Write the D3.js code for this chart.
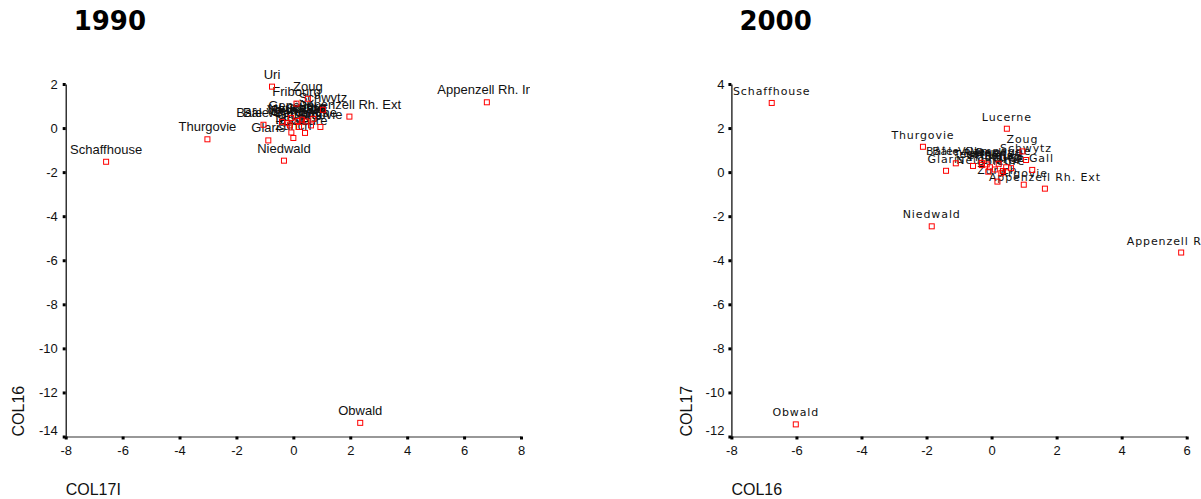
<!DOCTYPE html>
<html>
<head>
<meta charset="utf-8">
<script src="https://cdn.jsdelivr.net/npm/d3@7"></script>
<style>
  body { margin: 0; background: #fff; }
  svg { display: block; }
</style>
</head>
<body>
<svg id="chart" width="1201" height="499"></svg>
<script>
// Swiss cantons, same order in every series
const cantons = [
  "Zurich", "Berne", "Lucerne", "Uri", "Schwytz", "Obwald", "Niedwald",
  "Glaris", "Zoug", "Fribourg", "Soleure", "Bâle-Ville", "Bâle-Campagne",
  "Schaffhouse", "Appenzell Rh. Ext", "Appenzell Rh. Int", "St-Gall",
  "Grisons", "Argovie", "Thurgovie", "Tessin", "Vaud", "Valais",
  "Neuchâtel", "Genève", "Jura"
];

// 1990 scores
const col17i1990 = [
  0.00, -0.20, 0.30, -0.75, 1.04, 2.35, -0.33,
  -0.88, 0.51, 0.11, 0.41, -1.05, -0.12,
  -6.58, 1.97, 6.80, 0.45,
  0.20, 0.95, -3.02, -0.07, -0.40, 0.62,
  0.15, -0.08, 0.70
];
const col16_1990 = [
  -0.45, 0.22, 0.38, 1.88, 0.83, -13.38, -1.48,
  -0.56, 1.33, 1.11, -0.22, 0.15, 0.12,
  -1.53, 0.52, 1.17, 0.30,
  0.05, 0.05, -0.51, -0.20, 0.28, 0.12,
  0.32, 0.46, 0.42
];

// 2000 scores
const col16_2000 = [
  0.18, -0.30, 0.47, 0.35, 1.06, -6.02, -1.84,
  -1.40, 0.95, 0.10, 0.30, -1.10, -0.30,
  -6.76, 1.64, 5.83, 1.25,
  -0.05, 0.99, -2.11, -0.57, -0.15, 0.45,
  -0.10, 0.22, 0.60
];
const col17_2000 = [
  -0.43, 0.32, 1.97, 0.05, 0.55, -11.45, -2.46,
  0.06, 0.94, 0.12, -0.05, 0.40, 0.42,
  3.14, -0.75, -3.65, 0.10,
  0.22, -0.57, 1.15, 0.28, 0.35, 0.22,
  0.02, 0.38, 0.18
];

// tick values
const xTicks1990 = [-8, -6, -4, -2, 0, 2, 4, 6, 8];
const yTicks1990 = [2, 0, -2, -4, -6, -8, -10, -12, -14];
const xTicks2000 = [-8, -6, -4, -2, 0, 2, 4, 6];
const yTicks2000 = [4, 2, 0, -2, -4, -6, -8, -10, -12];

const svg = d3.select("#chart");
const defs = svg.append("defs");
const TOP = 84, BOTTOM = 436.5;

function drawPanel(o) {
  const g = svg.append("g");
  const x = d3.scaleLinear().domain(o.xDomain).range(o.xRange);
  const y = d3.scaleLinear().domain(o.yDomain).range([BOTTOM, TOP]);

  defs.append("clipPath").attr("id", o.id)
    .append("rect")
    .attr("x", o.clip[0]).attr("y", 0)
    .attr("width", o.clip[1] - o.clip[0]).attr("height", 499);

  // title
  g.append("text")
    .attr("x", o.xRange[0] + 8).attr("y", 30)
    .attr("font-family", "DejaVu Sans, Verdana, sans-serif")
    .attr("font-weight", "bold")
    .attr("font-size", 26)
    .attr("fill", "#000")
    .text(o.title);

  const fmt = d => String(d);

  // y axis
  const gy = g.append("g")
    .attr("transform", `translate(${o.xRange[0]},0)`)
    .call(d3.axisLeft(y).tickValues(o.yTicks).tickSize(3).tickSizeOuter(0)
      .tickPadding(o.yPad).tickFormat(fmt));
  gy.select(".domain").attr("stroke", "#000").attr("stroke-width", 1.2);
  gy.selectAll(".tick line").attr("stroke", "#000").attr("stroke-width", 3);
  gy.selectAll(".tick text")
    .attr("font-family", "Liberation Sans, Arial, sans-serif")
    .attr("font-size", 13).attr("fill", "#111");
  // lowest label sits a little above the corner
  gy.selectAll(".tick").filter(d => d === o.yDomain[0]).select("text")
    .attr("transform", "translate(0,-6.5)");

  // x axis
  const gx = g.append("g")
    .attr("transform", `translate(0,${BOTTOM})`)
    .call(d3.axisBottom(x).tickValues(o.xTicks).tickSize(3).tickSizeOuter(0)
      .tickPadding(6.5).tickFormat(fmt));
  gx.select(".domain").attr("stroke", "#333").attr("stroke-width", 1.2);
  gx.selectAll(".tick line").attr("stroke", "#000").attr("stroke-width", 3);
  gx.selectAll(".tick text")
    .attr("font-family", "Liberation Sans, Arial, sans-serif")
    .attr("font-size", 13).attr("fill", "#111");

  // axis titles
  g.append("text")
    .attr("x", o.xRange[0]).attr("y", 495)
    .attr("font-family", "Liberation Sans, Arial, sans-serif")
    .attr("font-size", 16).attr("fill", "#111")
    .text(o.xTitle);
  g.append("text")
    .attr("transform", `translate(${o.yTitleX},${BOTTOM}) rotate(-90)`)
    .attr("font-family", "Liberation Sans, Arial, sans-serif")
    .attr("font-size", 16).attr("fill", "#111")
    .text(o.yTitle);

  const idx = d3.range(cantons.length);
  const plot = g.append("g").attr("clip-path", `url(#${o.id})`);

  // canton names above their markers
  plot.append("g").selectAll("text").data(idx).join("text")
    .attr("x", i => x(o.xs[i]))
    .attr("y", i => y(o.ys[i]) - 8)
    .attr("text-anchor", "middle")
    .attr("font-family", o.labelFont)
    .attr("font-size", o.labelSize)
    .attr("letter-spacing", o.labelSpacing)
    .attr("fill", "#111")
    .text(i => cantons[i]);

  // hollow square markers
  plot.append("g").selectAll("rect").data(idx).join("rect")
    .attr("x", i => x(o.xs[i]) - 2.5)
    .attr("y", i => y(o.ys[i]) - 2.5)
    .attr("width", 5).attr("height", 5)
    .attr("fill", "none")
    .attr("stroke", "#ff0000")
    .attr("stroke-width", 1);
}

drawPanel({
  id: "clip1990", title: "1990",
  xs: col17i1990, ys: col16_1990,
  xDomain: [-8, 8], xRange: [65.7, 521],
  yDomain: [-14, 2],
  xTicks: xTicks1990, yTicks: yTicks1990, yPad: 5,
  clip: [0, 530],
  xTitle: "COL17I", yTitle: "COL16", yTitleX: 24,
  labelFont: "Liberation Sans, Arial, sans-serif", labelSize: 13, labelSpacing: 0
});

drawPanel({
  id: "clip2000", title: "2000",
  xs: col16_2000, ys: col17_2000,
  xDomain: [-8, 6], xRange: [731.4, 1186.7],
  yDomain: [-12, 4],
  xTicks: xTicks2000, yTicks: yTicks2000, yPad: 4,
  clip: [600, 1201],
  xTitle: "COL16", yTitle: "COL17", yTitleX: 692,
  labelFont: "DejaVu Sans, Verdana, sans-serif", labelSize: 11, labelSpacing: 0.9
});
</script>
</body>
</html>
